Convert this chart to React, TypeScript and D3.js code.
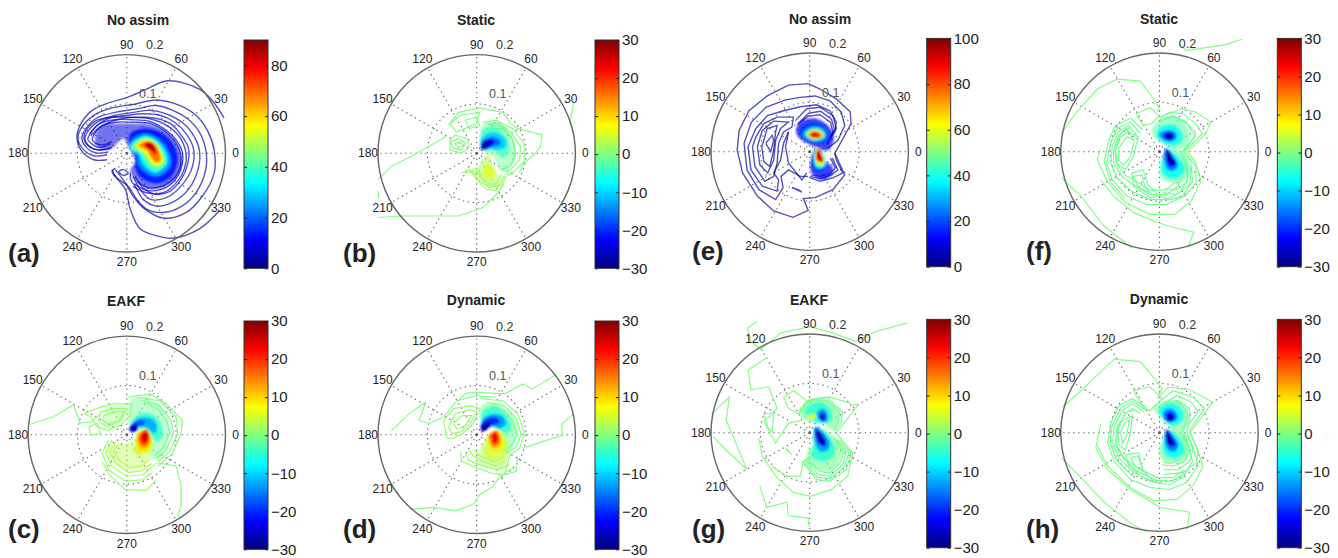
import React, { useEffect, useRef } from 'react';
import * as d3 from 'd3';

// contour vertices are [x, y] on the polar plane, in thousandths of the radial unit (rim = 200)
type Pt = [number, number];
type Line = [number, Pt[]];
type Fill = [number, Pt[], number?];

const angleTicks = [0, 30, 60, 90, 120, 150, 180, 210, 240, 270, 300, 330];
const jetStops = ['#00007f', '#0000ff', '#00ffff', '#ffff00', '#ff0000', '#7f0000'];
const jetPositions = [0, 0.125, 0.375, 0.625, 0.875, 1];
const anomalyTicks = [-30, -20, -10, 0, 10, 20, 30];
const noAssimTicksA = [0, 20, 40, 60, 80];
const noAssimTicksE = [0, 20, 40, 60, 80, 100];

const linesA: Line[] = [
  [2, [[197, 72], [173, 107], [147, 130], [83, 147], [40, 130], [0, 113], [-40, 101], [-70, 87], [-93, 60], [-101, 33], [-93, 7], [-67, -13], [-40, -13]]],
  [2, [[-30, -33], [-23, -47], [-3, -73], [7, -113], [27, -153], [60, -167], [93, -172], [147, -153], [187, -117]]],
  [3, [[-23, -33], [-3, -60], [13, -87], [33, -110], [73, -131], [120, -120], [153, -87], [177, -40], [177, 7], [163, 47], [140, 77], [107, 97], [60, 108], [13, 99], [-30, 92], [-67, 77], [-93, 50], [-99, 30], [-90, 10], [-67, -5], [-40, -3]]],
  [4, [[-23, -30], [-30, -37], [-20, -50], [3, -67], [20, -93], [40, -113], [73, -120], [110, -108], [140, -80], [160, -33], [160, 7], [147, 43], [123, 70], [93, 87], [60, 97], [20, 90], [-23, 83], [-60, 72], [-83, 50], [-91, 30], [-83, 13], [-63, 1], [-37, 3]]],
  [4, [[7, -40], [8, -53], [17, -67], [33, -93], [60, -107], [97, -97], [127, -70], [145, -30], [147, 7], [133, 40], [112, 63], [80, 80], [47, 87], [13, 83], [-23, 77], [-57, 65], [-77, 47], [-85, 30], [-79, 17], [-60, 7], [-33, 10]]],
  [5, [[13, -47], [27, -73], [47, -93], [80, -90], [113, -63], [133, -27], [135, 10], [120, 40], [97, 63], [67, 77], [33, 80], [0, 77], [-33, 72], [-57, 59], [-72, 43], [-79, 28], [-72, 20], [-57, 12], [-33, 19]]],
  [6, [[17, -47], [33, -70], [57, -83], [87, -77], [110, -53], [123, -23], [125, 10], [110, 37], [90, 59], [63, 70], [33, 73], [0, 72], [-30, 65], [-53, 53], [-65, 40], [-70, 27], [-63, 20], [-50, 17], [-30, 23]]],
  [6, [[13, -67], [40, -80], [73, -80], [100, -60], [117, -30], [120, 0], [107, 33], [80, 57], [47, 70], [7, 73], [-30, 73], [-60, 67], [-80, 50], [-87, 30], [-80, 17], [-57, 7], [-30, 12]]],
  [7, [[-75, 40], [-55, 60], [-25, 68], [10, 68], [45, 65], [75, 50], [100, 27], [113, 0], [110, -30], [95, -57], [70, -73], [40, -75], [15, -62]]],
  [8, [[-73, 35], [-52, 55], [-22, 63], [12, 63], [48, 60], [80, 42], [103, 15], [110, -15], [100, -45], [75, -65], [45, -70], [22, -58]]],
  [3, [[-17, -37], [-7, -33], [3, -40], [-7, -45], [-17, -37]]],
];
const coreA: Fill[] = [
  [8, [[-63, 37], [-50, 57], [-20, 60], [13, 60], [53, 57], [87, 37], [107, 7], [112, -23], [100, -50], [73, -70], [47, -73], [27, -63], [13, -50], [7, -33], [17, -17], [10, 0], [3, 13], [-7, 30], [-20, 20], [-30, 10], [-47, 7], [-63, 17]], 0.55],
  [14, [[7, 40], [33, 50], [67, 43], [93, 20], [103, -13], [93, -43], [67, -60], [43, -57], [23, -43], [17, -23], [17, -3], [7, 13]]],
  [24, [[10, 27], [37, 40], [63, 30], [83, 7], [90, -17], [80, -37], [60, -47], [40, -40], [23, -23], [20, -3], [7, 7]]],
  [34, [[10, 20], [37, 35], [60, 27], [77, 7], [83, -17], [73, -33], [57, -40], [43, -33], [30, -17], [23, 0], [8, 7]]],
  [44, [[12, 17], [37, 32], [59, 23], [73, 3], [79, -17], [68, -30], [57, -33], [45, -25], [35, -10], [25, 3], [12, 7]]],
  [55, [[17, 17], [39, 29], [57, 21], [70, 1], [73, -17], [63, -25], [53, -23], [43, -10], [33, 3], [23, 8]]],
  [68, [[23, 15], [41, 25], [55, 20], [67, 0], [68, -15], [60, -19], [50, -10], [40, 7], [30, 12]]],
  [80, [[35, 20], [47, 23], [57, 13], [61, 0], [57, -3], [47, 7], [37, 13]]],
  [87, [[43, 20], [52, 17], [57, 7], [52, 5], [44, 12]]],
];

const linesB: Line[] = [
  [0, [[-199, -53], [-174, -27], [-127, -3], [-81, 23], [-61, 35]]],
  [0, [[196, 103], [189, 60], [198, 37]]],
  [0, [[-199, -130], [-154, -127], [-37, -127], [13, -110], [43, -80], [55, -63]]],
  [0, [[-199, -77], [-199, -90]]],
  [0, [[-57, 57], [-37, 83], [6, 92], [53, 83], [69, 60], [83, 50], [133, 37], [129, 13], [116, -3], [96, -20], [86, -40]]],
  [0, [[-54, 60], [-34, 77], [6, 83], [-1, 60], [-24, 50], [-41, 43], [-54, 60]]],
  [0, [[-24, 67], [-1, 73], [6, 57], [-14, 50], [-24, 67]]],
  [0, [[-54, 27], [-44, 37], [-21, 30], [-14, 13], [-31, 0], [-54, 7], [-54, 27]]],
  [0, [[-53, 23], [-37, 30], [-22, 20], [-31, 7], [-47, 10], [-53, 23]]],
  [0, [[-44, 20], [-34, 23], [-27, 17], [-37, 11], [-44, 20]]],
  [1, [[-31, -40], [-14, -33], [-1, -53], [19, -73], [46, -77], [59, -47], [76, -40]]],
  [1, [[-24, -40], [-7, -37], [6, -57], [26, -70], [49, -63]]],
  [2, [[-15, -38], [0, -30], [5, -45], [22, -65], [45, -68], [56, -45]]],
  [2, [[-8, -42], [5, -35], [10, -50], [28, -63], [42, -60], [50, -42]]],
  [0, [[13, 63], [39, 67], [73, 50], [96, 20], [96, -17], [76, -37], [56, -43]]],
  [0, [[19, 60], [46, 60], [69, 43], [89, 13], [87, -13], [69, -33], [53, -37]]],
  [-1, [[19, 50], [53, 50], [73, 27], [79, -3], [69, -27], [49, -33]]],
  [-1, [[25, 58], [50, 55], [70, 35], [78, 8], [72, -18], [55, -30]]],
];
const coreB: Fill[] = [
  [-1, [[13, 60], [40, 67], [67, 40], [77, 13], [73, -20], [50, -37], [33, -7], [10, 7], [7, 33]], 0.45],
  [2, [[7, -20], [23, -3], [37, -33], [50, -57], [33, -67], [10, -57], [0, -37]], 0.55],
  [6, [[20, -23], [30, -27], [37, -43], [27, -53], [13, -43]], 0.8],
  [-4, [[13, 50], [40, 53], [63, 30], [67, 7], [53, -10], [37, 3], [13, 7], [7, 23]], 0.7],
  [-10, [[10, 30], [33, 43], [57, 30], [59, 13], [43, 7], [23, 10], [10, 7]]],
  [-16, [[10, 23], [30, 33], [47, 27], [47, 17], [30, 13], [17, 7]]],
  [-22, [[10, 20], [27, 30], [37, 25], [33, 17], [20, 10], [10, 7]]],
  [-28, [[10, 17], [21, 27], [30, 23], [23, 15], [15, 8], [9, 8]]],
];

const linesC: Line[] = [
  [0, [[-197, 21], [-147, 37], [-108, 61], [-95, 24], [-73, 26], [-53, 43]]],
  [0, [[63, -57], [100, -63], [110, -104], [110, -144], [103, -167]]],
  [1, [[-50, -54], [-33, -84], [-3, -111], [40, -112], [60, -91]]],
  [0, [[0, 76], [47, 83], [80, 63], [113, 29], [110, 3], [93, -37], [63, -64]]],
  [1, [[-77, 16], [-60, 23], [-53, 3], [-73, -1], [-77, 16]]],
  [1, [[-87, 43], [-53, 56], [-27, 63], [10, 63], [7, 39], [-13, 19], [-40, 9], [-60, 16], [-73, 36], [-87, 43]]],
  [1, [[-53, 46], [-27, 53], [0, 53], [-13, 29], [-40, 16], [-57, 29], [-53, 46]]],
  [1, [[-47, 38], [-27, 47], [-5, 47], [-17, 28], [-38, 22], [-50, 30], [-47, 38]]],
  [1, [[-37, -11], [-50, -37], [-37, -71], [-3, -94], [33, -91], [50, -77]]],
  [2, [[-30, -11], [-43, -37], [-30, -64], [0, -84], [33, -81], [60, -57]]],
  [2, [[-22, -13], [-35, -35], [-22, -58], [3, -76], [30, -73], [50, -58]]],
  [3, [[-15, -15], [-27, -33], [-15, -52], [5, -66], [28, -64], [45, -50]]],
  [0, [[20, 76], [67, 69], [100, 36], [103, 3], [87, -34], [63, -54]]],
  [-1, [[30, 70], [65, 60], [90, 30], [95, 3], [80, -30], [60, -48]]],
  [-1, [[40, 65], [65, 50], [82, 25], [87, 3], [73, -27], [57, -42]]],
];
const coreC: Fill[] = [
  [-1, [[10, 73], [47, 73], [80, 43], [87, 6], [73, -41], [53, -51], [43, -7], [20, 9], [7, 19], [3, 46]], 0.45],
  [3, [[-3, -17], [13, -11], [47, -17], [50, -44], [33, -64], [3, -71], [-27, -57], [-43, -31], [-30, -21]], 0.4],
  [1, [[-50, 33], [-37, 59], [0, 56], [-3, 33], [-27, 16], [-43, 16]], 0.35],
  [-5, [[7, 19], [20, 39], [47, 43], [67, 26], [73, -1], [60, -14], [40, 9], [20, 13], [7, 6]], 0.8],
  [-12, [[8, 16], [23, 33], [50, 33], [61, 19], [57, 3], [37, 16], [20, 16], [10, 9]]],
  [-18, [[7, 16], [23, 29], [37, 27], [33, 19], [20, 16], [17, 7], [8, 6]]],
  [-26, [[8, 19], [17, 23], [23, 16], [19, 7], [10, 6], [5, 11]]],
  [5, [[20, 3], [37, 9], [53, -11], [47, -34], [23, -41], [13, -31], [20, -14]], 0.85],
  [10, [[23, 3], [39, 11], [50, -7], [43, -29], [27, -33], [20, -17]]],
  [16, [[27, 3], [40, 11], [47, -7], [41, -22], [30, -24], [23, -11]]],
  [22, [[30, 3], [40, 7], [44, -7], [39, -17], [32, -17], [27, -7]]],
  [28, [[35, 1], [40, 3], [41, -9], [37, -13]]],
];

const linesD: Line[] = [
  [0, [[-173, 8], [-133, 46], [-103, 66], [-117, 29], [-97, 23], [-67, 36], [-43, 66]]],
  [0, [[-40, 66], [-23, 84], [0, 86], [57, 83], [93, 103], [113, 93], [163, 123]]],
  [0, [[93, -27], [173, -1], [173, 23], [197, 43]]],
  [0, [[-137, -151], [-87, -147], [-43, -154], [-7, -141], [7, -121], [33, -104], [47, -84], [80, -74], [83, -44]]],
  [1, [[-33, -34], [-30, -54], [0, -67], [27, -77], [50, -81], [73, -67]]],
  [1, [[-23, -37], [-17, -51], [7, -61], [40, -71], [67, -61]]],
  [2, [[-15, -30], [-8, -42], [12, -54], [38, -63], [58, -52]]],
  [2, [[-5, -30], [3, -40], [18, -48], [38, -55], [55, -45]]],
  [1, [[-63, 6], [-67, 29], [-47, 53], [-13, 59], [7, 53], [-7, 23], [-27, 3], [-47, -7], [-60, -7], [-63, 6]]],
  [1, [[-57, 16], [-43, 43], [-13, 51], [0, 46], [-13, 23], [-33, 6], [-50, 3], [-57, 16]]],
  [1, [[-47, 23], [-30, 39], [-10, 39], [-23, 19], [-40, 11], [-47, 23]]],
  [0, [[7, 73], [53, 69], [83, 43], [97, 3], [87, -27], [67, -41], [57, -81]]],
  [0, [[20, 66], [57, 59], [80, 33], [90, -1], [80, -24], [63, -37]]],
  [-1, [[28, 60], [55, 50], [73, 28], [82, 0], [72, -20], [58, -33]]],
  [0, [[-40, 69], [0, 79], [40, 76]]],
];
const coreD: Fill[] = [
  [-1, [[10, 59], [40, 63], [73, 39], [83, 9], [73, -24], [57, -41], [50, 3], [27, 16], [10, 29]], 0.55],
  [2, [[3, -37], [20, -11], [53, -11], [63, -41], [57, -67], [27, -67], [0, -54]], 0.45],
  [-5, [[13, 49], [40, 56], [63, 36], [70, 13], [57, 3], [40, 16], [20, 16], [10, 23]], 0.85],
  [5, [[13, -37], [23, -4], [47, 6], [63, -17], [57, -44], [30, -54]], 0.7],
  [-13, [[10, 26], [27, 41], [50, 39], [60, 23], [47, 13], [27, 19], [17, 13]]],
  [-20, [[8, 19], [23, 34], [40, 35], [47, 26], [33, 19], [20, 13], [12, 6]]],
  [-28, [[9, 15], [17, 23], [25, 26], [27, 19], [18, 9], [11, 7]]],
  [9, [[23, -1], [43, 9], [53, -11], [50, -27], [33, -34], [25, -17]], 0.9],
  [15, [[25, -1], [40, 8], [48, -9], [45, -21], [33, -25], [27, -14]]],
  [23, [[30, -1], [39, 5], [44, -7], [40, -17], [33, -17], [31, -9]]],
];

const linesE: Line[] = [
  [2, [[-3, 138], [-43, 135], [-86, 113], [-123, 83], [-143, 43], [-147, 3], [-136, -43], [-106, -90], [-73, -120], [-34, -133], [-3, -119], [-13, -95], [11, -93], [47, -77], [71, -47], [51, -3], [84, 57], [82, 81], [54, 107], [21, 127], [-3, 138]]],
  [3, [[37, 7], [57, 23], [71, 53], [64, 80], [41, 103], [11, 113], [-19, 110], [-49, 105], [-89, 90], [-118, 60], [-133, 17], [-127, -37], [-103, -77], [-69, -97], [-54, -73], [-58, -50], [-43, -37], [-19, -50], [-3, -50]]],
  [3, [[34, 17], [51, 40], [54, 60], [41, 83], [14, 95], [-19, 91], [-53, 83], [-86, 73], [-109, 47], [-125, 10], [-119, -37], [-96, -70], [-66, -80], [-63, -57], [-73, -43], [-59, -17], [-53, 17], [-43, 40]]],
  [3, [[-116, 10], [-111, -30], [-91, -60], [-73, -50], [-66, -23], [-63, 17], [-53, 40], [-36, 50], [-33, 70], [-66, 70], [-93, 57], [-109, 30], [-116, 10]]],
  [3, [[-106, 10], [-101, -27], [-85, -43], [-73, -17], [-69, 23], [-59, 47], [-43, 60], [-73, 62], [-96, 43], [-106, 10]]],
  [3, [[-97, 10], [-93, -20], [-81, -30], [-73, 3], [-69, 40], [-66, 53], [-86, 47], [-97, 10]]],
  [3, [[-89, 17], [-79, 0], [-73, 23], [-76, 33], [-89, 17]]],
  [4, [[-36, -73], [-16, -82], [-23, -77], [-36, -73]]],
  [3, [[-43, 40], [-49, 10], [-43, -23], [-16, -57], [-6, -43]]],
  [3, [[1, -53], [21, -60], [47, -53], [67, -43], [54, -17], [51, -3]]],
  [4, [[1, -50], [21, -55], [44, -47], [57, -37], [46, -13]]],
  [5, [[3, -47], [21, -50], [42, -44], [52, -33], [42, -13]]],
  [4, [[-29, 63], [-6, 87], [21, 90], [47, 73], [54, 47], [37, 23]]],
  [4, [[-22, 58], [-2, 78], [22, 82], [44, 66], [50, 45], [36, 18]]],
  [5, [[-25, 55], [-3, 72], [21, 75], [42, 60], [47, 40], [35, 14]]],
];
const coreE: Fill[] = [
  [11, [[-25, 53], [-16, 63], [14, 67], [37, 53], [49, 30], [37, 3], [11, 10], [-16, 23], [-27, 37]], 0.75],
  [18, [[-19, 47], [-3, 58], [21, 57], [37, 40], [37, 23], [21, 17], [-3, 22], [-18, 33]]],
  [30, [[-13, 40], [4, 51], [24, 49], [34, 37], [31, 25], [14, 20], [-3, 25], [-13, 31]]],
  [50, [[-8, 37], [6, 47], [24, 43], [31, 33], [21, 25], [7, 23], [-4, 29]]],
  [68, [[-4, 37], [7, 43], [23, 39], [27, 33], [17, 27], [6, 27], [-2, 31]]],
  [90, [[1, 35], [11, 40], [21, 35], [22, 31], [13, 29], [2, 31]]],
  [11, [[11, 7], [24, 3], [31, -17], [47, -33], [44, -47], [27, -57], [7, -47], [1, -33], [4, -10]], 0.75],
  [18, [[13, 5], [24, 0], [31, -23], [31, -37], [17, -42], [7, -33], [6, -10]]],
  [40, [[14, 8], [26, -3], [33, -20], [27, -33], [14, -33], [9, -23], [9, -3]]],
  [65, [[16, 8], [25, -5], [30, -19], [26, -27], [15, -25], [11, -13], [12, 0]]],
  [92, [[17, 5], [25, -9], [27, -20], [23, -21], [15, -17], [13, -7]]],
];

const linesF: Line[] = [
  [0, [[41, 217], [54, 205], [94, 211], [134, 217], [167, 228]]],
  [0, [[-199, 37], [-166, 83], [-126, 127], [-86, 147], [-39, 143], [-19, 117], [-1, 90], [-6, 80]]],
  [0, [[-199, -53], [-159, -90], [-113, -150], [-56, -195]]],
  [0, [[59, -193], [69, -163], [27, -153], [-6, -143], [-53, -123], [-93, -90], [-119, -57]]],
  [0, [[-121, 3], [-126, -17], [-106, -60], [-69, -103], [-19, -127], [31, -127], [64, -100], [84, -60], [74, -23], [57, 0], [94, 37], [104, 60], [74, 80], [44, 87], [7, 73], [1, 63]]],
  [0, [[-48, 77], [-19, 89], [-1, 73], [-16, 57], [-33, 53], [-46, 73], [-48, 77]]],
  [-1, [[-39, 37], [-59, 60], [-86, 47], [-99, 17], [-107, -23], [-96, -57], [-66, -90], [-26, -107], [14, -107], [44, -93], [67, -60], [64, -23], [51, 0]]],
  [-1, [[-35, 45], [-58, 68], [-90, 52], [-104, 20], [-112, -20], [-100, -60], [-70, -95]]],
  [-1, [[-46, 33], [-63, 53], [-84, 40], [-96, 10], [-99, -23], [-86, -53], [-56, -80], [-19, -97], [14, -97], [41, -83], [57, -57], [53, -23], [44, -3]]],
  [-1, [[-53, 23], [-67, 47], [-83, 33], [-93, 3], [-93, -23], [-76, -50], [-53, -67], [-19, -87], [14, -87], [37, -70], [47, -50]]],
  [-1, [[-59, 50], [-78, 38], [-90, 8], [-88, -23], [-70, -47], [-48, -60], [-19, -78], [12, -78], [32, -62]]],
  [-1, [[-63, 40], [-43, 30], [-53, -10], [-69, -37], [-86, -23], [-89, 3], [-79, 30], [-63, 40]]],
  [-1, [[-66, 30], [-51, 23], [-59, -10], [-73, -27], [-83, -17], [-83, 7], [-66, 30]]],
  [-1, [[-56, -43], [-33, -37], [-23, -67], [1, -90], [-19, -93], [-53, -70], [-56, -43]]],
  [-1, [[-53, -50], [-36, -47], [-29, -73], [-19, -83], [-43, -73], [-53, -50]]],
  [-1, [[1, 70], [21, 80], [47, 77], [74, 57], [87, 37], [61, 10], [51, 0], [74, -30], [74, -63], [51, -90], [21, -97], [-1, -90]]],
  [-1, [[10, 68], [33, 70], [58, 55], [72, 30], [52, 8], [44, -2], [58, -35], [56, -62], [33, -78], [10, -74]]],
  [-1, [[-1, 60], [27, 73], [54, 60], [74, 37], [57, 10], [47, 0], [64, -37], [61, -67], [34, -87], [7, -83]]],
];
const coreF: Fill[] = [
  [-2, [[-16, 43], [1, 63], [27, 73], [54, 53], [61, 23], [47, 7], [27, 3], [7, 17], [-9, 27]], 0.6],
  [-2, [[14, 3], [41, 0], [61, -30], [54, -57], [27, -63], [1, -50], [1, -30]], 0.6],
  [-7, [[-6, 37], [7, 53], [31, 53], [47, 33], [41, 17], [21, 13], [1, 23]], 0.9],
  [-7, [[14, 3], [34, -7], [51, -33], [41, -50], [17, -53], [4, -37], [7, -10]], 0.9],
  [-15, [[-1, 35], [14, 43], [31, 40], [34, 27], [21, 20], [7, 25]]],
  [-15, [[14, 7], [27, -7], [37, -27], [31, -37], [17, -37], [11, -23], [9, -3]]],
  [-22, [[7, 35], [21, 39], [29, 33], [26, 25], [14, 25]]],
  [-22, [[16, 5], [26, -10], [34, -23], [29, -30], [19, -29], [13, -13]]],
  [-29, [[12, 33], [21, 37], [27, 31], [21, 25], [14, 27]]],
  [-29, [[17, 0], [26, -13], [31, -23], [24, -25], [16, -13]]],
];

const linesG: Line[] = [
  [0, [[-107, 225], [-126, 212], [-119, 185], [-99, 169], [-59, 202], [1, 215], [47, 202], [94, 185], [134, 205], [197, 222]]],
  [0, [[-87, 152], [-125, 127], [-119, 87], [-83, 93], [-66, 49], [-79, 39], [-93, 39], [-83, 5], [-69, -21], [-43, 19], [-16, 25]]],
  [0, [[-199, 37], [-163, 72], [-169, 25], [-127, -75], [-169, -35], [-196, -8]]],
  [0, [[-101, -108], [-87, -151], [-46, -141], [-43, -168], [-3, -173], [-1, -191]]],
  [0, [[-103, -11], [-96, -48], [-69, -88], [-33, -121], [1, -129], [44, -115], [77, -88], [87, -41], [54, -1], [97, 55], [41, 72], [1, 67], [-13, 55]]],
  [0, [[-53, 72], [-33, 85], [-6, 65], [-23, 39], [-43, 49], [-53, 72]]],
  [0, [[-93, 25], [-73, 39], [-76, 2], [-86, 9], [-93, 25]]],
  [0, [[-49, -31], [-36, -45], [-47, -35], [-49, -31]]],
  [0, [[-76, -68], [-46, -88], [-19, -88], [-13, -58], [1, -48]]],
  [-1, [[-16, -58], [14, -95], [41, -98], [74, -75], [84, -41], [61, -15]]],
  [-1, [[-12, -58], [15, -90], [41, -93], [70, -70], [79, -41], [57, -15]]],
  [-1, [[-9, -55], [17, -85], [41, -88], [67, -65], [74, -41], [54, -15]]],
  [-1, [[-3, -55], [20, -78], [41, -82], [63, -60], [68, -41], [50, -12]]],
  [-1, [[-19, 42], [-3, 65], [34, 72], [67, 42], [64, 19], [51, 2]]],
  [-1, [[-10, 48], [8, 66], [35, 66], [60, 42], [58, 20], [48, 4]]],
];
const coreG: Fill[] = [
  [-1, [[-23, 42], [-6, 62], [27, 69], [54, 52], [61, 25], [47, 5], [27, 19], [11, 22], [-13, 29]], 0.6],
  [-1, [[11, 12], [47, -5], [64, -31], [61, -58], [41, -78], [14, -75], [-6, -61], [-3, -35], [14, -21]], 0.6],
  [-5, [[-6, 49], [21, 62], [41, 49], [44, 25], [27, 19], [7, 22], [-9, 32]], 0.9],
  [-5, [[11, 12], [37, -5], [51, -31], [47, -48], [27, -58], [4, -48], [7, -28]], 0.9],
  [6, [[-6, 32], [7, 39], [13, 32], [4, 27]]],
  [-13, [[14, 39], [27, 49], [37, 35], [34, 22], [21, 25]]],
  [-13, [[11, 12], [27, 2], [41, -21], [37, -35], [21, -38], [11, -21]]],
  [-21, [[19, 35], [27, 41], [33, 32], [26, 22], [21, 27]]],
  [-21, [[12, 9], [25, -3], [34, -21], [31, -28], [19, -23], [13, -8]]],
  [-28, [[22, 33], [27, 36], [30, 31], [25, 25]]],
  [-28, [[14, 5], [24, -6], [32, -23], [24, -23], [15, -11]]],
];

const linesH: Line[] = [
  [0, [[-195, 52], [-152, 92], [-92, 149], [-39, 144], [-12, 112], [5, 89], [-5, 69]]],
  [0, [[-199, -51], [-152, -98], [-112, -141], [-52, -188], [-25, -201]]],
  [0, [[55, -198], [61, -161], [1, -151], [-59, -115], [-105, -75], [-129, -31], [-119, 19]]],
  [0, [[-127, -25], [-105, -68], [-59, -111], [-12, -138], [35, -135], [68, -108], [88, -68], [75, -28], [61, -1], [108, 62], [61, 87], [18, 92], [1, 75]]],
  [0, [[-52, 85], [-19, 93], [5, 69], [-19, 45], [-32, 49], [-44, 69], [-52, 85]]],
  [-1, [[-25, 49], [-55, 69], [-82, 55], [-99, 19], [-105, -21], [-92, -58], [-59, -95], [-19, -111], [21, -115], [55, -101], [78, -68], [68, -28], [55, -5]]],
  [-1, [[-28, 46], [-55, 64], [-78, 50], [-96, 15], [-100, -21], [-87, -55], [-55, -88]]],
  [-1, [[-32, 42], [-55, 59], [-75, 45], [-92, 12], [-95, -21], [-82, -51], [-52, -81], [-12, -101], [21, -105], [48, -91], [67, -58], [58, -25], [48, -5]]],
  [-1, [[-47, 46], [-66, 42], [-86, 12], [-90, -23], [-77, -48], [-48, -76], [-8, -96], [25, -98], [50, -83]]],
  [-1, [[-39, 39], [-55, 49], [-72, 35], [-85, 5], [-87, -25], [-72, -51], [-45, -71], [-5, -91], [28, -91], [51, -75]]],
  [-1, [[-79, 22], [-55, 35], [-59, -1], [-69, -35], [-82, -25], [-85, 2], [-79, 22]]],
  [-1, [[-69, 22], [-61, 25], [-67, -8], [-75, -21], [-79, 2], [-69, 22]]],
  [-1, [[-69, -45], [-42, -41], [-35, -75], [-9, -101], [-39, -88], [-62, -68], [-69, -45]]],
  [-1, [[-59, -51], [-44, -47], [-32, -78], [-49, -68], [-59, -51]]],
  [-1, [[-2, 62], [28, 85], [68, 72], [91, 49], [75, 25], [61, 5], [78, -38], [75, -61], [48, -81], [8, -85]]],
  [-1, [[1, 55], [35, 75], [65, 62], [78, 42], [61, 19], [55, 5], [68, -35], [61, -58], [38, -75], [8, -75]]],
  [-1, [[8, 62], [38, 65], [61, 49], [61, 25], [48, 5], [61, -31], [51, -58], [28, -68], [5, -65]]],
  [-1, [[14, 58], [40, 60], [56, 45], [56, 25], [44, 5], [56, -30], [46, -52], [25, -62], [8, -60]]],
];
const coreH: Fill[] = [
  [-1, [[-12, 52], [8, 62], [38, 65], [58, 45], [58, 19], [45, 5], [28, 5], [8, 22], [-2, 35]], 0.6],
  [-1, [[15, 5], [45, 2], [61, -31], [55, -55], [28, -61], [5, -55], [-2, -38], [5, -18]], 0.6],
  [-7, [[-2, 45], [15, 59], [38, 55], [48, 39], [45, 22], [25, 15], [8, 29]], 0.9],
  [-7, [[15, 5], [38, -8], [51, -35], [41, -48], [21, -51], [8, -38], [8, -15]], 0.9],
  [-15, [[8, 42], [20, 49], [33, 42], [36, 29], [23, 21], [11, 25]]],
  [-15, [[15, 7], [29, -8], [38, -25], [31, -38], [18, -35], [11, -18]]],
  [-22, [[13, 35], [21, 42], [30, 35], [29, 27], [20, 22], [15, 27]]],
  [-22, [[15, 5], [26, -9], [33, -23], [28, -28], [18, -25], [13, -11]]],
  [-29, [[16, 33], [23, 37], [28, 32], [23, 25], [17, 27]]],
  [-29, [[15, 2], [23, -11], [29, -23], [21, -25], [15, -11]]],
];

const panels = [
  { tag: '(a)', title: 'No assim', cx: 126.8, cy: 153.3, titleX: 138, titleY: 25, tagX: 8, tagY: 262, barX: 244, barTop: 40, domain: [0, 90], ticks: noAssimTicksA, lines: linesA, core: coreA, smooth: true },
  { tag: '(b)', title: 'Static', cx: 476.7, cy: 153.3, titleX: 476, titleY: 25, tagX: 343, tagY: 262, barX: 595, barTop: 40, domain: [-30, 30], ticks: anomalyTicks, lines: linesB, core: coreB },
  { tag: '(c)', title: 'EAKF', cx: 126.8, cy: 434.8, titleX: 126, titleY: 306, tagX: 8, tagY: 538, barX: 244, barTop: 321, domain: [-30, 30], ticks: anomalyTicks, lines: linesC, core: coreC },
  { tag: '(d)', title: 'Dynamic', cx: 476.7, cy: 434.8, titleX: 476, titleY: 305, tagX: 343, tagY: 538, barX: 595, barTop: 321, domain: [-30, 30], ticks: anomalyTicks, lines: linesD, core: coreD },
  { tag: '(e)', title: 'No assim', cx: 809.7, cy: 151.7, titleX: 820, titleY: 24, tagX: 692, tagY: 260, barX: 926.7, barTop: 38.4, domain: [0, 100], ticks: noAssimTicksE, lines: linesE, core: coreE },
  { tag: '(f)', title: 'Static', cx: 1159.5, cy: 151.7, titleX: 1159, titleY: 24, tagX: 1026, tagY: 260, barX: 1277.3, barTop: 38.4, domain: [-30, 30], ticks: anomalyTicks, lines: linesF, core: coreF },
  { tag: '(g)', title: 'EAKF', cx: 809.7, cy: 432.7, titleX: 809, titleY: 305, tagX: 692, tagY: 538, barX: 926.7, barTop: 319.4, domain: [-30, 30], ticks: anomalyTicks, lines: linesG, core: coreG },
  { tag: '(h)', title: 'Dynamic', cx: 1159.5, cy: 432.7, titleX: 1159, titleY: 304, tagX: 1026, tagY: 538, barX: 1277.3, barTop: 319.4, domain: [-30, 30], ticks: anomalyTicks, lines: linesH, core: coreH },
];

const RADIUS = 98.7;
const BAR_W = 24;
const BAR_H = 228.3;
const FONT = '"Liberation Sans", Arial, sans-serif';

const App = () => {
  const svgRef = useRef<SVGSVGElement>(null);

  useEffect(() => {
    const svg = d3.select(svgRef.current);
    svg.selectAll('*').remove();

    const jet = d3.scaleLinear<string>().domain(jetPositions).range(jetStops).clamp(true);
    const defs = svg.append('defs');
    const grad = defs.append('linearGradient').attr('id', 'jet').attr('x1', 0).attr('x2', 0).attr('y1', 1).attr('y2', 0);
    jetPositions.forEach((p, i) => {
      grad.append('stop').attr('offset', p).attr('stop-color', jetStops[i]);
    });
    // the picture is a resampled bitmap, so lines get a slight blur and the filled cores a stronger one
    const blur = (id: string, amount: number) =>
      defs.append('filter').attr('id', id)
        .attr('filterUnits', 'userSpaceOnUse')
        .attr('x', 0).attr('y', 0).attr('width', 1338).attr('height', 558)
        .append('feGaussianBlur').attr('stdDeviation', amount);
    blur('soft', 0.45);
    blur('softer', 1.1);

    panels.forEach(p => {
      const g = svg.append('g').attr('font-family', FONT);
      const x = d3.scaleLinear().domain([-200, 200]).range([p.cx - RADIUS, p.cx + RADIUS]);
      const y = d3.scaleLinear().domain([-200, 200]).range([p.cy + RADIUS, p.cy - RADIUS]);
      const r = d3.scaleLinear().domain([0, 200]).range([0, RADIUS]);
      const level = d3.scaleLinear().domain(p.domain).range([0, 1]);
      const path = d3.line<Pt>().x(d => x(d[0])).y(d => y(d[1]));
      if (p.smooth) path.curve(d3.curveCatmullRom);
      const ring = d3.line<Pt>().x(d => x(d[0])).y(d => y(d[1])).curve(d3.curveCatmullRomClosed);
      const blue = p.domain[0] === 0;

      // polar grid
      const grid = g.append('g').attr('stroke', '#666').attr('stroke-width', 1.1).attr('stroke-dasharray', '1.4 3.6').attr('fill', 'none');
      grid.append('circle').attr('cx', p.cx).attr('cy', p.cy).attr('r', r(100));
      grid.selectAll('line')
        .data(angleTicks)
        .enter()
        .append('line')
        .attr('x1', p.cx)
        .attr('y1', p.cy)
        .attr('x2', d => p.cx + r(200) * Math.cos(d * Math.PI / 180))
        .attr('y2', d => p.cy - r(200) * Math.sin(d * Math.PI / 180));

      g.append('g').attr('filter', 'url(#soft)')
        .selectAll('path')
        .data(p.lines)
        .enter()
        .append('path')
        .attr('d', d => path(d[1]))
        .attr('fill', 'none')
        .attr('stroke', d => jet(level(d[0])))
        .attr('stroke-opacity', blue ? 0.68 : 1)
        .attr('stroke-width', blue ? 1.4 : 1.15);
      g.append('g').attr('filter', 'url(#softer)')
        .selectAll('path')
        .data(p.core)
        .enter()
        .append('path')
        .attr('d', d => ring(d[1]))
        .attr('fill', d => jet(level(d[0])))
        .attr('fill-opacity', d => d[2] ?? 1);

      g.append('circle')
        .attr('cx', p.cx).attr('cy', p.cy).attr('r', RADIUS)
        .attr('fill', 'none').attr('stroke', '#666').attr('stroke-width', 1.4);

      // angle and radius labels
      g.append('g').attr('font-size', 12).attr('fill', '#222').attr('text-anchor', 'middle')
        .selectAll('text')
        .data(angleTicks)
        .enter()
        .append('text')
        .attr('x', d => p.cx + (RADIUS + 10) * Math.cos(d * Math.PI / 180))
        .attr('y', d => p.cy - (RADIUS + 10) * Math.sin(d * Math.PI / 180) + 4)
        .text(d => d);
      g.append('text').attr('x', p.cx + 28).attr('y', p.cy - 104).attr('text-anchor', 'middle')
        .attr('font-size', 12.5).attr('fill', '#333').text('0.2');
      g.append('text').attr('x', p.cx + 21).attr('y', p.cy - 55).attr('text-anchor', 'middle')
        .attr('font-size', 12.5).attr('fill', '#555').text('0.1');

      g.append('text').attr('x', p.titleX).attr('y', p.titleY).attr('text-anchor', 'middle')
        .attr('font-size', 14).attr('font-weight', 'bold').attr('fill', '#222').text(p.title);
      g.append('text').attr('x', p.tagX).attr('y', p.tagY)
        .attr('font-size', 26).attr('font-weight', 'bold').attr('fill', '#222').text(p.tag);

      // colour bar
      const bar = d3.scaleLinear().domain(p.domain).range([p.barTop + BAR_H, p.barTop]);
      g.append('rect')
        .attr('x', p.barX).attr('y', p.barTop).attr('width', BAR_W).attr('height', BAR_H)
        .attr('fill', 'url(#jet)').attr('stroke', '#333').attr('stroke-width', 1);
      const axis = g.append('g')
        .attr('transform', `translate(${p.barX + BAR_W},0)`)
        .call(d3.axisRight(bar).tickValues(p.ticks).tickSizeInner(-3).tickSizeOuter(0).tickPadding(3).tickFormat(d3.format('d')));
      axis.select('.domain').remove();
      axis.selectAll('.tick line').attr('stroke', '#222');
      axis.selectAll('.tick').append('line').attr('x1', -BAR_W).attr('x2', -BAR_W + 3).attr('stroke', '#222');
      axis.selectAll('.tick text')
        .attr('font-size', 15)
        .attr('font-family', FONT)
        .attr('fill', '#222');
    });
  }, []);

  return (
    <svg
      ref={svgRef}
      width={1338}
      height={558}
      style={{ position: 'absolute', left: 0, top: 0, background: '#fff' }}
    />
  );
};

export default App;
